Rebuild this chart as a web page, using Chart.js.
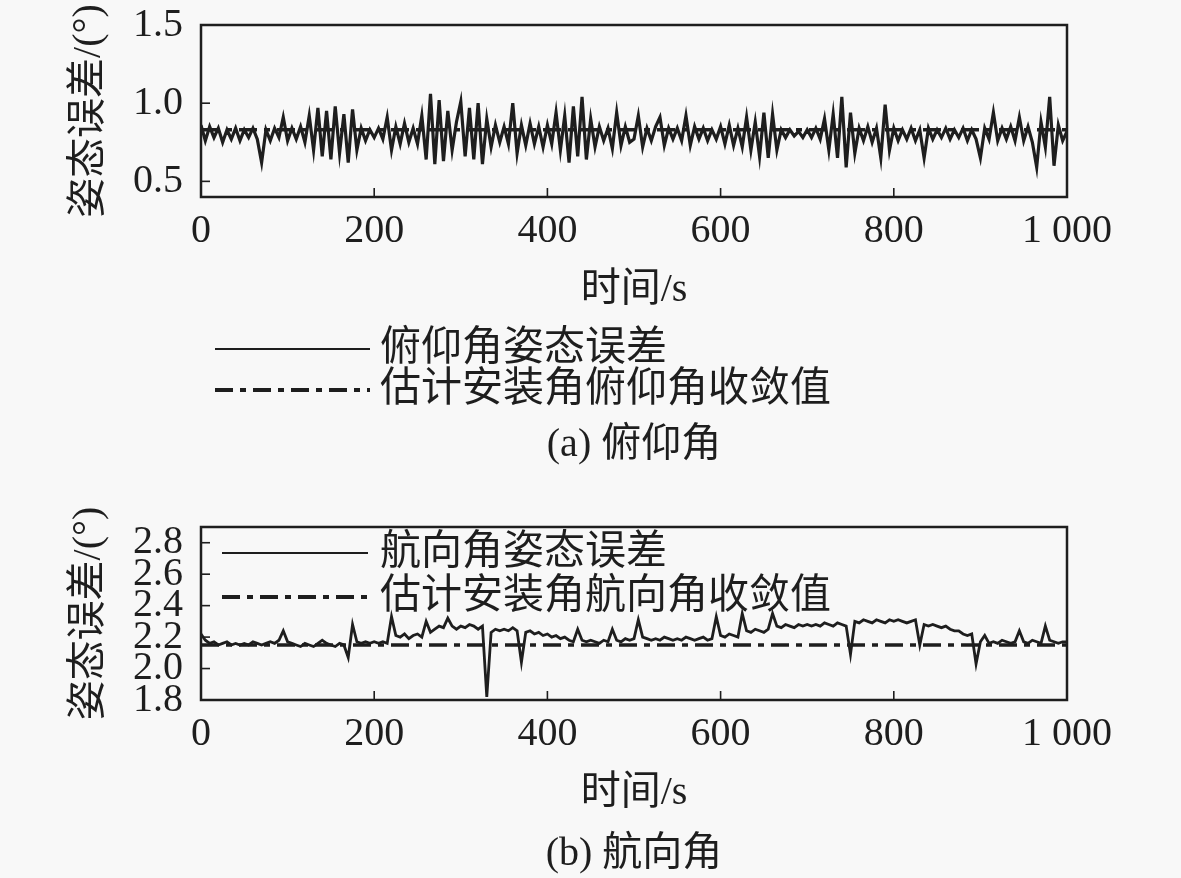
<!DOCTYPE html>
<html>
<head>
<meta charset="utf-8">
<script src="https://cdn.jsdelivr.net/npm/chart.js@4.4.0/dist/chart.umd.min.js"></script>
<style>
html, body { margin: 0; padding: 0; background: #f8f8f8; }
#wrap { position: relative; width: 1181px; height: 878px; }
#pitchBox { position: absolute; left: 0; top: 0; width: 1181px; height: 480px; }
#headBox { position: absolute; left: 0; top: 480px; width: 1181px; height: 398px; }
</style>
</head>
<body>
<div id="wrap">
  <div id="pitchBox"><canvas id="pitchChart"></canvas></div>
  <div id="headBox"><canvas id="headChart"></canvas></div>
</div>
<script>
// time axis ticks (s)
const timeTicks = [0, 200, 400, 600, 800, 1000];
const timeTickLabels = ['0', '200', '400', '600', '800', '1 000'];
const sampleStep = 5; // one value read every 5 s

// (a) pitch attitude error, deg
const pitchErr = [
  0.86, 0.76, 0.85, 0.78, 0.84, 0.75, 0.83, 0.77, 0.84, 0.76,
  0.83, 0.78, 0.84, 0.77, 0.62, 0.83, 0.76, 0.84, 0.78, 0.91,
  0.76, 0.84, 0.77, 0.85, 0.75, 0.92, 0.70, 0.97, 0.66, 0.95,
  0.64, 0.98, 0.68, 0.93, 0.62, 0.96, 0.70, 0.84, 0.76, 0.83,
  0.78, 0.84, 0.77, 0.91, 0.70, 0.85, 0.74, 0.87, 0.75, 0.84,
  0.74, 0.92, 0.64, 1.06, 0.61, 1.02, 0.63, 0.95, 0.70, 0.88,
  1.01, 0.66, 0.97, 0.64, 1.00, 0.61, 0.90, 0.72, 0.86, 0.75,
  0.85, 0.74, 1.00, 0.68, 0.86, 0.73, 0.87, 0.74, 0.85, 0.72,
  0.86, 0.74, 0.94, 0.70, 0.92, 0.62, 0.98, 0.66, 1.04, 0.64,
  0.90, 0.72, 0.85, 0.76, 0.84, 0.71, 0.94, 0.73, 0.85, 0.75,
  0.77, 0.92, 0.72, 0.84, 0.76, 0.85, 0.91, 0.73, 0.84, 0.77,
  0.84, 0.76, 0.92, 0.73, 0.85, 0.77, 0.84, 0.76, 0.83, 0.77,
  0.85, 0.74, 0.86, 0.73, 0.84, 0.72, 0.91, 0.70, 0.88, 0.66,
  0.94, 0.65, 0.93, 0.70, 0.83, 0.78, 0.83, 0.79, 0.82, 0.78,
  0.83, 0.78, 0.84, 0.77, 0.90, 0.70, 0.93, 0.65, 1.04, 0.59,
  0.94, 0.68, 0.84, 0.76, 0.85, 0.75, 0.84, 0.65, 0.99, 0.70,
  0.84, 0.76, 0.83, 0.77, 0.84, 0.76, 0.83, 0.65, 0.84, 0.77,
  0.83, 0.78, 0.84, 0.77, 0.83, 0.78, 0.84, 0.76, 0.83, 0.77,
  0.65, 0.84, 0.77, 0.94, 0.76, 0.84, 0.77, 0.85, 0.76, 0.91,
  0.76, 0.85, 0.75, 0.59, 0.88, 0.72, 1.04, 0.60, 0.86, 0.76,
  0.82
];
const pitchConverge = 0.83;
const pitchYTicks = [0.5, 1.0, 1.5];
const pitchYTickLabels = ['0.5', '1.0', '1.5'];

// (b) heading attitude error, deg
const headErr = [
  2.22, 2.18, 2.16, 2.17, 2.15, 2.16, 2.17, 2.15, 2.16, 2.15,
  2.16, 2.15, 2.17, 2.16, 2.15, 2.16, 2.17, 2.16, 2.18, 2.24,
  2.17, 2.16, 2.15, 2.14, 2.16, 2.15, 2.14, 2.16, 2.18, 2.16,
  2.15, 2.14, 2.16, 2.15, 2.07, 2.28, 2.17, 2.16, 2.17, 2.16,
  2.17, 2.16, 2.17, 2.16, 2.33, 2.21, 2.20, 2.22, 2.19, 2.21,
  2.22, 2.20, 2.30, 2.23, 2.25, 2.27, 2.26, 2.32, 2.27, 2.25,
  2.27, 2.26, 2.28, 2.27, 2.25, 2.27, 1.82, 2.23, 2.25, 2.24,
  2.25, 2.24, 2.26, 2.24, 2.04, 2.23, 2.24, 2.22, 2.23, 2.21,
  2.22, 2.20, 2.21, 2.19, 2.20, 2.18, 2.17, 2.25, 2.18, 2.17,
  2.18, 2.17, 2.16, 2.18, 2.17, 2.25, 2.18, 2.17, 2.19, 2.18,
  2.19, 2.31, 2.20, 2.19, 2.18, 2.19, 2.18, 2.20, 2.19, 2.18,
  2.19, 2.18, 2.20, 2.19, 2.18, 2.19, 2.20, 2.18, 2.19, 2.33,
  2.21, 2.20, 2.22, 2.21, 2.20, 2.35, 2.24, 2.23, 2.25, 2.24,
  2.23, 2.25, 2.35, 2.27, 2.26, 2.28, 2.27, 2.26, 2.28, 2.27,
  2.28, 2.27, 2.28, 2.27, 2.29, 2.28, 2.27, 2.29, 2.28, 2.27,
  2.09, 2.30, 2.29, 2.31, 2.30, 2.29, 2.31, 2.30, 2.29, 2.31,
  2.30, 2.31, 2.30, 2.29, 2.30, 2.31, 2.15, 2.28, 2.27, 2.28,
  2.27, 2.26, 2.27, 2.25, 2.24, 2.24, 2.22, 2.21, 2.22, 2.03,
  2.17, 2.21, 2.16, 2.17, 2.16, 2.18, 2.17, 2.16, 2.17, 2.24,
  2.17, 2.16, 2.18, 2.17, 2.16, 2.27, 2.18, 2.17, 2.16, 2.17,
  2.17
];
const headConverge = 2.15;
const headYTicks = [1.8, 2.0, 2.2, 2.4, 2.6, 2.8];
const headYTickLabels = ['1.8', '2.0', '2.2', '2.4', '2.6', '2.8'];

const FONT = '"Liberation Serif", "Noto Sans CJK SC", serif';
const INK = '#1e1e1e';
const dashDot = [18, 7, 6, 7];

Chart.defaults.font.family = FONT;
Chart.defaults.font.size = 40;
Chart.defaults.color = INK;

function toPoints(values) {
  return values.map((v, i) => ({ x: i * sampleStep, y: v }));
}
function flatLine(v) {
  return [{ x: timeTicks[0], y: v }, { x: timeTicks[timeTicks.length - 1], y: v }];
}

// frame + inward tick marks
const frameTicks = {
  id: 'frameTicks',
  afterDraw(chart) {
    const { ctx, chartArea: a, scales } = chart;
    ctx.save();
    ctx.strokeStyle = INK;
    ctx.lineWidth = 1.6;
    scales.x.ticks.forEach(t => {
      const px = scales.x.getPixelForValue(t.value);
      ctx.beginPath();
      ctx.moveTo(px, a.bottom);
      ctx.lineTo(px, a.bottom - 9);
      ctx.stroke();
    });
    scales.y.ticks.forEach(t => {
      const py = scales.y.getPixelForValue(t.value);
      ctx.beginPath();
      ctx.moveTo(a.left, py);
      ctx.lineTo(a.left + 9, py);
      ctx.stroke();
    });
    ctx.lineWidth = 2.5;
    ctx.strokeRect(a.left, a.top, a.right - a.left, a.bottom - a.top);
    ctx.restore();
  }
};

// legend drawn as line samples + labels
const lineLegend = {
  id: 'lineLegend',
  afterDraw(chart, args, opts) {
    const ctx = chart.ctx;
    ctx.save();
    ctx.font = '41px ' + FONT;
    ctx.textBaseline = 'middle';
    ctx.textAlign = 'left';
    chart.data.datasets.forEach((ds, i) => {
      const y = opts.rows[i];
      ctx.strokeStyle = ds.borderColor;
      ctx.lineWidth = opts.widths[i];
      ctx.setLineDash(ds.borderDash || []);
      ctx.beginPath();
      ctx.moveTo(opts.x0, y);
      ctx.lineTo(opts.x1, y);
      ctx.stroke();
      ctx.setLineDash([]);
      ctx.fillStyle = INK;
      ctx.fillText(ds.label, opts.textX, y);
    });
    ctx.restore();
  }
};

function makeChart(id, cfg) {
  return new Chart(document.getElementById(id), {
    type: 'line',
    data: {
      datasets: [
        {
          label: cfg.label,
          data: toPoints(cfg.values),
          borderColor: INK,
          borderWidth: cfg.lineWidth,
          pointRadius: 0,
          tension: 0
        },
        {
          label: cfg.convLabel,
          data: flatLine(cfg.converge),
          borderColor: INK,
          borderWidth: 3.5,
          borderDash: dashDot,
          pointRadius: 0
        }
      ]
    },
    options: {
      responsive: true,
      maintainAspectRatio: false,
      animation: false,
      layout: { padding: { left: 0, right: 114, top: cfg.padTop, bottom: 0 } },
      plugins: {
        legend: { display: false },
        tooltip: { enabled: false },
        title: {
          display: true,
          text: cfg.caption,
          position: 'bottom',
          fullSize: false,
          color: INK,
          font: { size: 40, weight: 'normal' },
          padding: { top: cfg.capTop, bottom: cfg.capBottom }
        },
        lineLegend: cfg.legend
      },
      scales: {
        x: {
          type: 'linear',
          min: 0,
          max: 1000,
          afterBuildTicks: s => { s.ticks = timeTicks.map(v => ({ value: v })); },
          afterFit: s => { s.height = 120; },
          grid: { display: false, drawTicks: false },
          border: { display: false },
          ticks: {
            padding: 10,
            maxRotation: 0,
            autoSkip: false,
            callback: v => timeTickLabels[timeTicks.indexOf(v)]
          },
          title: { display: true, text: '时间/s', padding: { top: 0, bottom: 3 } }
        },
        y: {
          type: 'linear',
          min: cfg.yMin,
          max: cfg.yMax,
          afterBuildTicks: s => { s.ticks = cfg.yTicks.map(v => ({ value: v })); },
          afterFit: s => { s.width = 201; s.paddingTop = 0; s.paddingBottom = 0; },
          grid: { display: false, drawTicks: false },
          border: { display: false },
          ticks: {
            padding: 18,
            autoSkip: false,
            callback: v => cfg.yTickLabels[cfg.yTicks.findIndex(t => Math.abs(t - v) < 1e-9)]
          },
          title: { display: true, text: '姿态误差/(°)', padding: { top: 65, bottom: 0 } }
        }
      }
    },
    plugins: [frameTicks, lineLegend]
  });
}

makeChart('pitchChart', {
  label: '俯仰角姿态误差',
  convLabel: '估计安装角俯仰角收敛值',
  values: pitchErr,
  converge: pitchConverge,
  lineWidth: 3.2,
  yMin: 0.4,
  yMax: 1.5,
  yTicks: pitchYTicks,
  yTickLabels: pitchYTickLabels,
  caption: '(a) 俯仰角',
  padTop: 25,
  capTop: 104,
  capBottom: 11,
  legend: { x0: 215, x1: 370, textX: 380, rows: [349, 390], widths: [2, 4] }
});

makeChart('headChart', {
  label: '航向角姿态误差',
  convLabel: '估计安装角航向角收敛值',
  values: headErr,
  converge: headConverge,
  lineWidth: 2.8,
  yMin: 1.8,
  yMax: 2.9,
  yTicks: headYTicks,
  yTickLabels: headYTickLabels,
  caption: '(b) 航向角',
  padTop: 47,
  capTop: 10,
  capBottom: 0,
  legend: { x0: 222, x1: 368, textX: 380, rows: [73, 117], widths: [2, 4] }
});
</script>
</body>
</html>
